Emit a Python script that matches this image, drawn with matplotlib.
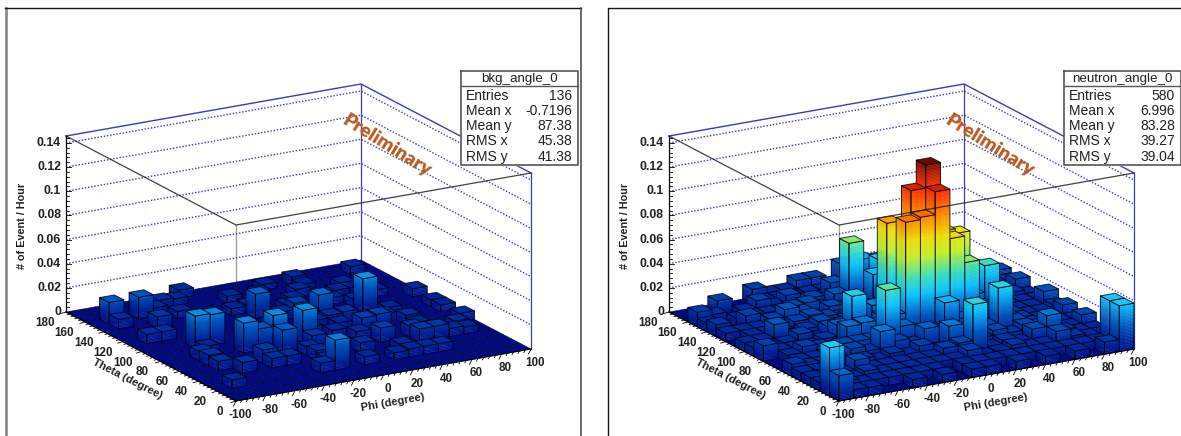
import matplotlib
matplotlib.use("Agg")
import matplotlib.pyplot as plt
from matplotlib.collections import PolyCollection
from matplotlib.colors import LinearSegmentedColormap
import numpy as np

plt.rcParams['font.family'] = ['Liberation Sans', 'DejaVu Sans']

# cell contents in units of 0.001 events/hour, rows go theta 170-180 down to 0-10, cols phi -100 to 100
bkg_counts = [
    [0, 0, 0, 0, 0, 0, 0, 7, 0, 0, 0, 0, 0, 0, 0, 0, 0, 0, 0, 0],
    [0, 0, 0, 0, 0, 7, 6, 0, 0, 0, 0, 0, 5, 0, 7, 0, 0, 0, 7, 0],
    [0, 18, 0, 18, 7, 0, 0, 0, 0, 6, 0, 5, 0, 0, 5, 0, 0, 0, 0, 0],
    [0, 8, 0, 0, 0, 6, 0, 0, 0, 0, 0, 0, 0, 7, 0, 0, 6, 0, 0, 0],
    [0, 0, 0, 10, 0, 0, 0, 0, 6, 7, 0, 0, 6, 0, 0, 6, 0, 0, 0, 0],
    [0, 0, 0, 0, 0, 0, 0, 0, 0, 20, 0, 7, 0, 0, 6, 0, 0, 6, 0, 0],
    [0, 8, 8, 0, 0, 0, 0, 0, 0, 0, 7, 12, 0, 0, 0, 7, 0, 0, 0, 7],
    [0, 0, 0, 0, 6, 0, 0, 0, 0, 6, 0, 0, 21, 0, 0, 28, 0, 0, 0, 0],
    [0, 0, 0, 27, 26, 0, 0, 7, 0, 0, 0, 6, 8, 9, 0, 0, 6, 0, 0, 6],
    [0, 0, 0, 6, 0, 0, 6, 0, 0, 0, 7, 0, 6, 0, 0, 7, 0, 0, 0, 6],
    [0, 0, 8, 0, 0, 25, 18, 27, 0, 27, 0, 6, 0, 12, 13, 0, 8, 0, 0, 0],
    [0, 0, 9, 0, 0, 0, 0, 19, 0, 10, 0, 0, 7, 0, 0, 0, 6, 0, 0, 7],
    [0, 0, 8, 0, 0, 11, 0, 0, 7, 0, 0, 0, 0, 12, 0, 9, 0, 0, 7, 0],
    [0, 0, 0, 9, 0, 8, 8, 0, 8, 0, 0, 8, 0, 0, 0, 11, 11, 7, 6, 0],
    [0, 0, 0, 0, 0, 0, 0, 0, 6, 0, 0, 0, 0, 7, 0, 0, 0, 0, 0, 0],
    [0, 7, 0, 0, 0, 0, 0, 8, 25, 0, 7, 0, 6, 7, 7, 7, 0, 0, 0, 0],
    [0, 0, 0, 0, 0, 0, 0, 0, 0, 0, 0, 0, 0, 0, 0, 0, 0, 0, 0, 0],
    [0, 0, 0, 0, 0, 0, 0, 0, 0, 0, 0, 0, 0, 0, 0, 0, 0, 0, 0, 0],
]
neutron_counts = [
    [0, 0, 0, 0, 0, 12, 7, 7, 13, 13, 0, 20, 0, 0, 0, 0, 0, 0, 0, 0],
    [0, 0, 13, 0, 0, 7, 7, 0, 7, 7, 10, 12, 0, 0, 14, 0, 0, 0, 0, 0],
    [12, 8, 0, 7, 13, 7, 13, 7, 0, 17, 0, 32, 30, 14, 0, 20, 7, 0, 0, 0],
    [7, 0, 7, 7, 7, 7, 7, 13, 10, 7, 23, 10, 14, 7, 0, 14, 0, 7, 0, 0],
    [10, 0, 13, 7, 7, 14, 15, 10, 18, 58, 7, 40, 12, 10, 14, 7, 7, 0, 0, 14],
    [7, 7, 7, 12, 18, 14, 7, 14, 12, 7, 34, 37, 12, 10, 7, 7, 14, 7, 7, 10],
    [0, 7, 7, 7, 12, 15, 12, 10, 7, 14, 14, 20, 12, 10, 12, 14, 7, 7, 7, 15],
    [7, 7, 18, 7, 10, 14, 7, 14, 14, 20, 20, 22, 30, 7, 20, 14, 10, 7, 10, 7],
    [7, 0, 7, 12, 7, 14, 15, 14, 25, 91, 25, 30, 30, 15, 20, 20, 15, 7, 7, 7],
    [13, 7, 7, 7, 10, 19, 41, 14, 20, 20, 120, 139, 82, 78, 25, 47, 10, 7, 7, 17],
    [0, 7, 12, 10, 7, 22, 23, 20, 25, 100, 102, 121, 80, 58, 20, 14, 10, 7, 7, 10],
    [0, 7, 7, 7, 14, 14, 14, 52, 20, 14, 13, 33, 18, 14, 20, 14, 10, 7, 7, 14],
    [10, 7, 7, 7, 14, 10, 24, 14, 10, 20, 14, 10, 12, 14, 43, 14, 10, 7, 7, 7],
    [7, 7, 14, 7, 10, 7, 10, 7, 12, 7, 24, 12, 10, 14, 10, 14, 12, 7, 7, 14],
    [7, 7, 7, 15, 7, 7, 7, 7, 7, 12, 14, 44, 7, 10, 7, 15, 24, 10, 7, 7],
    [7, 7, 7, 10, 7, 7, 7, 7, 7, 7, 12, 6, 7, 10, 7, 7, 15, 9, 7, 7],
    [40, 10, 7, 7, 7, 7, 7, 7, 0, 7, 7, 7, 7, 7, 7, 7, 7, 7, 7, 38],
    [21, 7, 7, 0, 0, 7, 0, 7, 0, 7, 7, 0, 7, 0, 7, 0, 7, 0, 10, 38],
]
phi_ticks = [-100, -80, -60, -40, -20, 0, 20, 40, 60, 80, 100]
theta_ticks = [0, 20, 40, 60, 80, 100, 120, 140, 160, 180]
z_ticks = [0, 0.02, 0.04, 0.06, 0.08, 0.1, 0.12, 0.14]
z_labels = ['0', '0.02', '0.04', '0.06', '0.08', '0.1', '0.12', '0.14']
stat_names = ['Entries', 'Mean x', 'Mean y', 'RMS x', 'RMS y']
bkg_stats = ['136', '-0.7196', '87.38', '45.38', '41.38']
neutron_stats = ['580', '6.996', '83.28', '39.27', '39.04']

zmax = 0.1458
cmap = LinearSegmentedColormap.from_list('lego', [
    (0.0, '#000a82'), (0.05, '#00269a'), (0.14, '#0058c0'), (0.19, '#0a80dc'), (0.27, '#10c8ff'),
    (0.36, '#40e0c0'), (0.48, '#c8f030'), (0.58, '#f0e010'), (0.69, '#ff9000'),
    (0.83, '#ff3000'), (0.95, '#901000'), (1.0, '#700800')])


def make_proj(xoff):
    # parallel projection, phi/theta/z to figure pixels
    def proj(phi, theta, z=0.0):
        t = (phi + 100) / 200.0
        u = theta / 180.0
        return (236 + xoff + 295 * t - 170 * u, 401 - 52 * t - 89 * u - 176 * z / zmax)
    return proj


fig = plt.figure(figsize=(11.81, 4.36), dpi=100)
ax = fig.add_axes([0, 0, 1, 1])
ax.set_xlim(0, 1181)
ax.set_ylim(436, 0)
ax.axis('off')

BLUE = '#3a3ab4'
TICK_COLOR = '#202020'


def draw_walls(proj):
    for z in z_ticks[1:]:
        a, b, c = proj(-100, 180, z), proj(100, 180, z), proj(100, 0, z)
        ax.plot([a[0], b[0], c[0]], [a[1], b[1], c[1]], ls=(0, (1, 1.3)), color=BLUE, lw=1.0, zorder=1)
    a, b, c = proj(-100, 180, zmax), proj(100, 180, zmax), proj(100, 0, zmax)
    ax.plot([a[0], b[0], c[0]], [a[1], b[1], c[1]], color=BLUE, lw=1.0, zorder=1)
    for p, t in [(100, 180), (100, 0)]:
        a, b = proj(p, t, 0), proj(p, t, zmax)
        ax.plot([a[0], b[0]], [a[1], b[1]], color=BLUE, lw=0.9, zorder=1)


def draw_bars(proj, counts):
    verts, faces, edges, widths = [], [], [], []
    dz = 0.0012

    def add(poly, fc, ec, lw):
        verts.append(poly)
        faces.append(fc)
        edges.append(ec)
        widths.append(lw)

    # painter's order, back cells first
    for row, vals in enumerate(counts):
        t0 = 170 - row * 10
        for col in range(19, -1, -1):
            p0 = -100 + col * 10
            p1, t1 = p0 + 10, t0 + 10
            z = vals[col] * 0.001
            if z > 0:
                levels = list(np.arange(0, z, dz)) + [z]
                for k in range(len(levels) - 1):
                    lo, hi = levels[k], levels[k + 1]
                    col_a = np.array(cmap(hi / zmax))
                    col_b = col_a.copy()
                    col_b[:3] *= 0.95
                    add([proj(p0, t0, lo), proj(p1, t0, lo), proj(p1, t0, hi), proj(p0, t0, hi)], col_a, col_a, 0.3)
                    add([proj(p0, t0, lo), proj(p0, t1, lo), proj(p0, t1, hi), proj(p0, t0, hi)], col_b, col_b, 0.3)
                edge = (0, 0, 0.05, 0.8)
                none = (0, 0, 0, 0)
                add([proj(p0, t0, 0), proj(p1, t0, 0), proj(p1, t0, z), proj(p0, t0, z)], none, edge, 0.7)
                add([proj(p0, t0, 0), proj(p0, t1, 0), proj(p0, t1, z), proj(p0, t0, z)], none, edge, 0.7)
                top = np.array(cmap(min(1.0, z / zmax * 1.05 + 0.01)))
                add([proj(p0, t0, z), proj(p1, t0, z), proj(p1, t1, z), proj(p0, t1, z)], top, edge, 0.7)
            else:
                add([proj(p0, t0), proj(p1, t0), proj(p1, t1), proj(p0, t1)], cmap(0.0), (0, 0, 0.15, 0.7), 0.5)
    ax.add_collection(PolyCollection(verts, facecolors=faces, edgecolors=edges, linewidths=widths, zorder=2))


def draw_axes(proj):
    # black front box, it shows through the bars
    a, b, c = proj(-100, 180, zmax), proj(-100, 0, zmax), proj(100, 0, zmax)
    ax.plot([a[0], b[0], c[0]], [a[1], b[1], c[1]], color='#202020', lw=0.9, alpha=0.85, zorder=3)
    s, e = proj(-100, 0, zmax), proj(-100, 0, 0)
    ax.plot([s[0], e[0]], [s[1], e[1]], color='#202020', lw=0.9, alpha=0.45, zorder=3)

    # z axis
    s, e = proj(-100, 180, 0), proj(-100, 180, zmax)
    ax.plot([s[0], e[0]], [s[1], e[1]], color='black', lw=0.9, zorder=3)
    for z in np.arange(0, zmax, 0.004):
        major = abs(z / 0.02 - round(z / 0.02)) < 1e-6
        x, y = proj(-100, 180, z)
        ax.plot([x, x + (5 if major else 2.5)], [y, y], color='black', lw=0.6, zorder=3)
    for z, lab in zip(z_ticks, z_labels):
        x, y = proj(-100, 180, z)
        ax.text(x - 5, y, lab, ha='right', va='center', fontsize=8.8, fontweight='bold', color=TICK_COLOR)
    x, y = proj(-100, 180, 0.07)
    ax.text(x - 44, y - 2, '# of Event / Hour', rotation=90, ha='center', va='center', fontsize=7.8,
            fontweight='bold', color=TICK_COLOR)

    # phi axis
    s, e = proj(-100, 0), proj(100, 0)
    ax.plot([s[0], e[0]], [s[1], e[1]], color='black', lw=0.8, zorder=3)
    for p in np.arange(-100, 101, 4):
        x, y = proj(p, 0)
        n = 5 if p % 20 == 0 else 2.5
        ax.plot([x, x - 0.5 * n], [y, y + n], color='black', lw=0.6, zorder=3)
    for p in phi_ticks:
        x, y = proj(p, 0)
        ax.text(x + 4, y + 14, str(p), ha='center', va='center', fontsize=8.4, fontweight='bold', color=TICK_COLOR)
    x, y = proj(0, 0)
    ax.text(x + 9, y + 27, 'Phi (degree)', rotation=10, ha='center', va='center', fontsize=8,
            fontweight='bold', color=TICK_COLOR)

    # theta axis
    s, e = proj(-100, 0), proj(-100, 180)
    ax.plot([s[0], e[0]], [s[1], e[1]], color='black', lw=0.8, zorder=3)
    for t in np.arange(0, 181, 4):
        x, y = proj(-100, t)
        n = 5 if t % 20 == 0 else 2.5
        ax.plot([x, x - n], [y, y + 0.3 * n], color='black', lw=0.6, zorder=3)
    for t in theta_ticks:
        x, y = proj(-100, t)
        ax.text(x - 16 - 5 * t / 180, y + 11, str(t), ha='center', va='center', fontsize=8.4,
                fontweight='bold', color=TICK_COLOR)
    x, y = proj(-100, 90)
    ax.text(x - 24, y + 22, 'Theta (degree)', rotation=-27, ha='center', va='center', fontsize=8,
            fontweight='bold', color=TICK_COLOR)


def draw_stats(xoff, name, stats):
    x0, x1 = 461 + xoff, 578 + xoff
    ax.fill([x0, x1, x1, x0], [71, 71, 165, 165], color='white', zorder=5)
    ax.plot([x0, x1, x1, x0, x0], [71, 71, 165, 165, 71], color='#555555', lw=1.2, zorder=6)
    ax.plot([x0, x1], [86.5, 86.5], color='#555555', lw=1.0, zorder=6)
    ax.text((x0 + x1) / 2, 79, name, ha='center', va='center', fontsize=9.6, color=TICK_COLOR, zorder=7)
    for k, (n, v) in enumerate(zip(stat_names, stats)):
        y = 95.5 + k * 15.3
        ax.text(x0 + 5, y, n, ha='left', va='center', fontsize=10, color=TICK_COLOR, zorder=7)
        ax.text(x1 - 6, y, v, ha='right', va='center', fontsize=10, color=TICK_COLOR, zorder=7)


panels = [(0, bkg_counts, 'bkg_angle_0', bkg_stats), (603, neutron_counts, 'neutron_angle_0', neutron_stats)]
for xoff, counts, name, stats in panels:
    proj = make_proj(xoff)
    draw_walls(proj)
    draw_bars(proj, counts)
    draw_axes(proj)
    draw_stats(xoff, name, stats)
    ax.text(387 + xoff, 146, 'Preliminary', rotation=-32, ha='center', va='center', fontsize=14,
            fontweight='heavy', family=['Lato', 'DejaVu Sans'], color='#b85a20', zorder=4)

# page frames around the two canvases
ax.plot([5.5, 5.5], [436, 8], color='#808080', lw=1.8)
ax.plot([5, 581], [8, 8], color='#151515', lw=1.0)
ax.plot([581, 581], [8, 436], color='#444444', lw=1.1)
ax.plot([608, 608, 1181], [436, 8, 8], color='#151515', lw=1.0)

fig.savefig('out.png', dpi=100)
